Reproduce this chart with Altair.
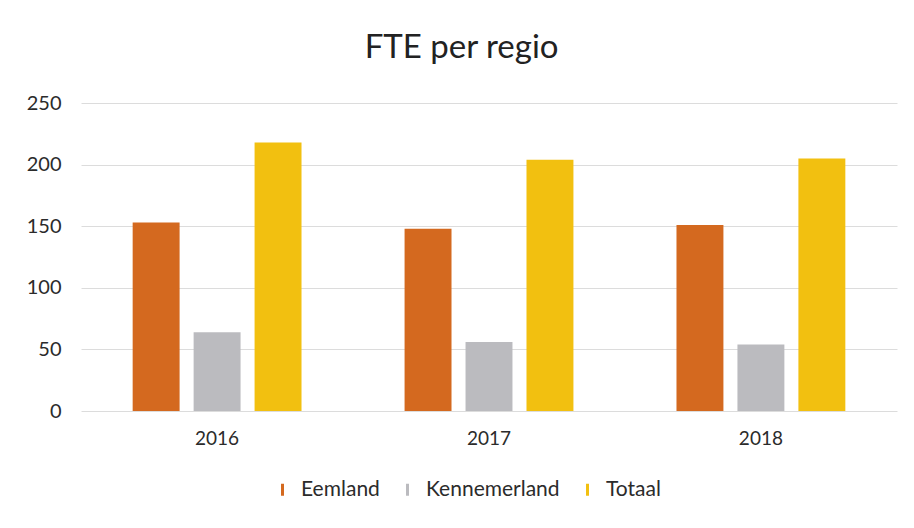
import altair as alt
import pandas as pd

years = ["2016", "2017", "2018"]
regions = ["Eemland", "Kennemerland", "Totaal"]
eemland = [153, 148, 151]
kennemerland = [64, 56, 54]
totaal = [218, 204, 205]
colors = ["#D4691F", "#BBBBBF", "#F2C010"]
y_ticks = [0, 50, 100, 150, 200, 250]

rows = []
for i, y in enumerate(years):
    rows.append({"year": y, "regio": "Eemland", "fte": eemland[i]})
    rows.append({"year": y, "regio": "Kennemerland", "fte": kennemerland[i]})
    rows.append({"year": y, "regio": "Totaal", "fte": totaal[i]})
df = pd.DataFrame(rows)

FONT = "Lato"
TXT = "#2b2b2b"

chart = alt.Chart(df).mark_bar().encode(
    x=alt.X("year:N", sort=years,
            scale=alt.Scale(paddingInner=0.379, paddingOuter=0.19),
            axis=alt.Axis(title=None, labelAngle=0, ticks=False, domain=False,
                          grid=False, labelPadding=18, labelFontSize=19,
                          labelFont=FONT, labelColor=TXT)),
    xOffset=alt.XOffset("regio:N", sort=regions,
                        scale=alt.Scale(paddingInner=0.23, paddingOuter=0)),
    y=alt.Y("fte:Q", scale=alt.Scale(domain=[0, 250], nice=False),
            axis=alt.Axis(title=None, values=y_ticks, ticks=False, domain=False,
                          grid=True, gridColor="#dcdcdc", gridWidth=1,
                          labelPadding=20, labelFontSize=20, labelFont=FONT,
                          labelColor=TXT)),
    color=alt.Color("regio:N", sort=regions,
                    scale=alt.Scale(domain=regions, range=colors),
                    legend=alt.Legend(title=None, orient="none", direction="horizontal",
                                      legendX=191, legendY=376,
                                      symbolType="M-0.25,-1L0.25,-1L0.25,1L-0.25,1Z",
                                      symbolSize=144, symbolStrokeWidth=0,
                                      labelFont=FONT, labelFontSize=21, labelColor=TXT,
                                      columnPadding=17, labelOffset=8)),
).properties(
    width=816,
    height=308,
    title=alt.TitleParams("FTE per regio", fontSize=33, font=FONT, fontWeight="normal",
                          color="#222222", anchor="middle", frame="bounds",
                          baseline="alphabetic", offset=2),
    autosize=alt.AutoSizeParams(type="none"),
    padding={"left": 73, "top": 95, "right": 9, "bottom": 109},
).configure(background="white").configure_view(strokeWidth=0, stroke="transparent")

chart.save("out.html", embed_options={"renderer": "svg", "actions": False})
